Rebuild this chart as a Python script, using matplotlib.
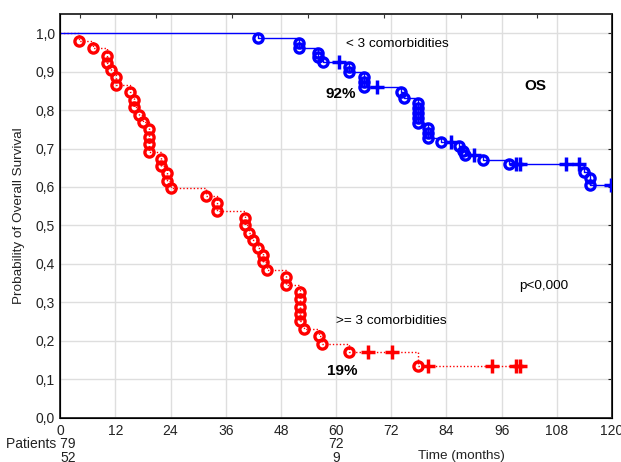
import numpy as np
import matplotlib
matplotlib.use("Agg")
import matplotlib.pyplot as plt
from matplotlib.ticker import FixedLocator, FuncFormatter

plt.rcParams['font.family'] = ['Liberation Sans', 'DejaVu Sans']

# Kaplan-Meier data: event times (months) and survival after each event
low_event_t = [43.0, 51.9, 51.9, 56.0, 56.0, 57.1, 62.9, 62.9, 66.1, 66.1, 66.1,
               74.1, 74.8, 77.9, 77.9, 77.9, 77.9, 77.9, 79.9, 79.9, 79.9,
               82.8, 86.8, 87.5, 88.1, 91.9, 97.6, 113.9, 115.3, 115.3]
low_surv = [0.987, 0.975, 0.962, 0.949, 0.937, 0.924, 0.911, 0.898, 0.885, 0.872,
            0.859, 0.846, 0.832, 0.819, 0.806, 0.793, 0.780, 0.767, 0.754, 0.741,
            0.728, 0.718, 0.706, 0.694, 0.682, 0.671, 0.659, 0.640, 0.622, 0.604]
low_censor_t = [60.6, 68.8, 85.0, 90.0, 99.2, 100.0, 109.9, 112.8, 119.8]
low_end_t = 120.0

high_event_t = [4.0, 7.2, 10.1, 10.1, 11.0, 12.1, 12.1, 15.2, 16.0, 16.0, 17.1, 17.9,
                19.3, 19.3, 19.3, 19.3, 21.9, 21.9, 23.3, 23.3, 24.0, 31.8, 34.0, 34.0,
                40.1, 40.1, 41.0, 42.0, 43.0, 44.0, 44.0, 45.0, 49.0, 49.0,
                52.2, 52.2, 52.2, 52.2, 52.2, 53.1, 56.2, 57.0, 62.9, 77.9]
high_surv = [0.981, 0.962, 0.942, 0.923, 0.904, 0.885, 0.865, 0.846, 0.827, 0.808,
             0.788, 0.769, 0.750, 0.731, 0.712, 0.692, 0.673, 0.654, 0.635, 0.615,
             0.596, 0.577, 0.558, 0.538, 0.519, 0.500, 0.481, 0.462, 0.442, 0.423,
             0.404, 0.385, 0.365, 0.346, 0.327, 0.308, 0.288, 0.269, 0.250, 0.231,
             0.212, 0.192, 0.171, 0.135]
high_censor_t = [67.0, 72.2, 79.9, 93.9, 99.2, 100.0]
high_end_t = 100.0

# patients at risk
risk_times = [0, 60]
risk_low = [79, 72]
risk_high = [52, 9]

x_ticks = list(range(0, 121, 12))
y_ticks = [i / 10 for i in range(11)]

BLUE = '#0000ff'
RED = '#ff0000'


def surv_at(times, surv, t):
    s = 1.0
    for et, sv in zip(times, surv):
        if et <= t:
            s = sv
    return s


def draw_group(ax, ev_t, ev_s, cens_t, end_t, color, ls, lw, z):
    xs = [0.0] + list(ev_t) + [end_t]
    ys = [1.0] + list(ev_s) + [ev_s[-1]]
    ax.step(xs, ys, where='post', color=color, ls=ls, lw=lw, zorder=z)
    ax.plot(ev_t, ev_s, ls='none', marker='o', ms=6.6, mfc='none',
            mec=color, mew=2.4, zorder=z + 1)
    cy = [surv_at(ev_t, ev_s, t) for t in cens_t]
    ax.plot(cens_t, cy, ls='none', marker='+', ms=9.5, mec=color,
            mew=2.5, zorder=z + 1)


fig = plt.figure(figsize=(6.21, 4.62), dpi=100)
L, R = 60.2 / 621, 612 / 621
B, T = 1 - 417.5 / 462, 1 - 14 / 462
ax = fig.add_axes([L, B, R - L, T - B])

draw_group(ax, high_event_t, high_surv, high_censor_t, high_end_t, RED,
           (0, (1, 1.5)), 1.0, 3)
draw_group(ax, low_event_t, low_surv, low_censor_t, low_end_t, BLUE,
           '-', 1.0, 5)

ax.set_xlim(0, 120)
ax.set_ylim(0, 1.05)
ax.xaxis.set_major_locator(FixedLocator(x_ticks))
ax.yaxis.set_major_locator(FixedLocator(y_ticks))
ax.yaxis.set_major_formatter(FuncFormatter(lambda v, p: f"{v:.1f}".replace('.', ',')))
ax.grid(True, color='#dedede', lw=1.0, zorder=0)
ax.set_axisbelow(True)
ax.tick_params(axis='both', labelsize=10, colors='#222222')
ax.tick_params(axis='x', direction='in', length=0, pad=5.0)
ax.tick_params(axis='y', direction='in', length=3, pad=4, right=True, left=False)
for sp in ax.spines.values():
    sp.set_color('#333333')
    sp.set_linewidth(1.4)

# top axis with its own inward ticks
top = ax.twiny()
top.set_xlim(0, 120)
top.xaxis.set_major_locator(FixedLocator([4.2, 20.8, 37.4, 53.9, 70.5, 87.1, 103.7]))
top.tick_params(axis='x', direction='in', length=3, labeltop=False, color='#333333')
top.spines['top'].set_visible(False)

ax.set_ylabel('Probability of Overall Survival', fontsize=9.7, color='#222222')
ax.yaxis.set_label_coords(-0.063, 0.5)

ax.text(73.4, 0.973, '< 3 comorbidities', fontsize=9.7, ha='center', va='center')
ax.text(72.0, 0.252, '>= 3 comorbidities', fontsize=9.7, ha='center', va='center')
ax.text(105.2, 0.342, 'p<0,000', fontsize=9.7, ha='center', va='center')
ax.text(103.4, 0.862, 'OS', fontsize=11, fontweight='bold', ha='center', va='center')
ax.text(61.0, 0.843, '92%', fontsize=11, fontweight='bold', ha='center', va='center')
ax.text(61.4, 0.122, '19%', fontsize=11, fontweight='bold', ha='center', va='center')

# patients-at-risk rows under the time axis
row1_y = 1 - 444 / 462
row2_y = 1 - 458.5 / 462
for t, n1, n2 in zip(risk_times, risk_low, risk_high):
    xf = L + (R - L) * t / 120
    if t == 0:
        fig.text(76 / 621, row1_y, f'Patients {n1}', fontsize=10, ha='right', va='center', color='#222222')
        fig.text(76 / 621, row2_y, f'{n2}', fontsize=10, ha='right', va='center', color='#222222')
    else:
        fig.text(xf, row1_y, f'{n1}', fontsize=10, ha='center', va='center', color='#222222')
        fig.text(xf, row2_y, f'{n2}', fontsize=10, ha='center', va='center', color='#222222')

fig.text(461 / 621, 1 - 456 / 462, 'Time (months)', fontsize=9.7, ha='center', va='center', color='#222222')

fig.savefig('out.png', dpi=100)
